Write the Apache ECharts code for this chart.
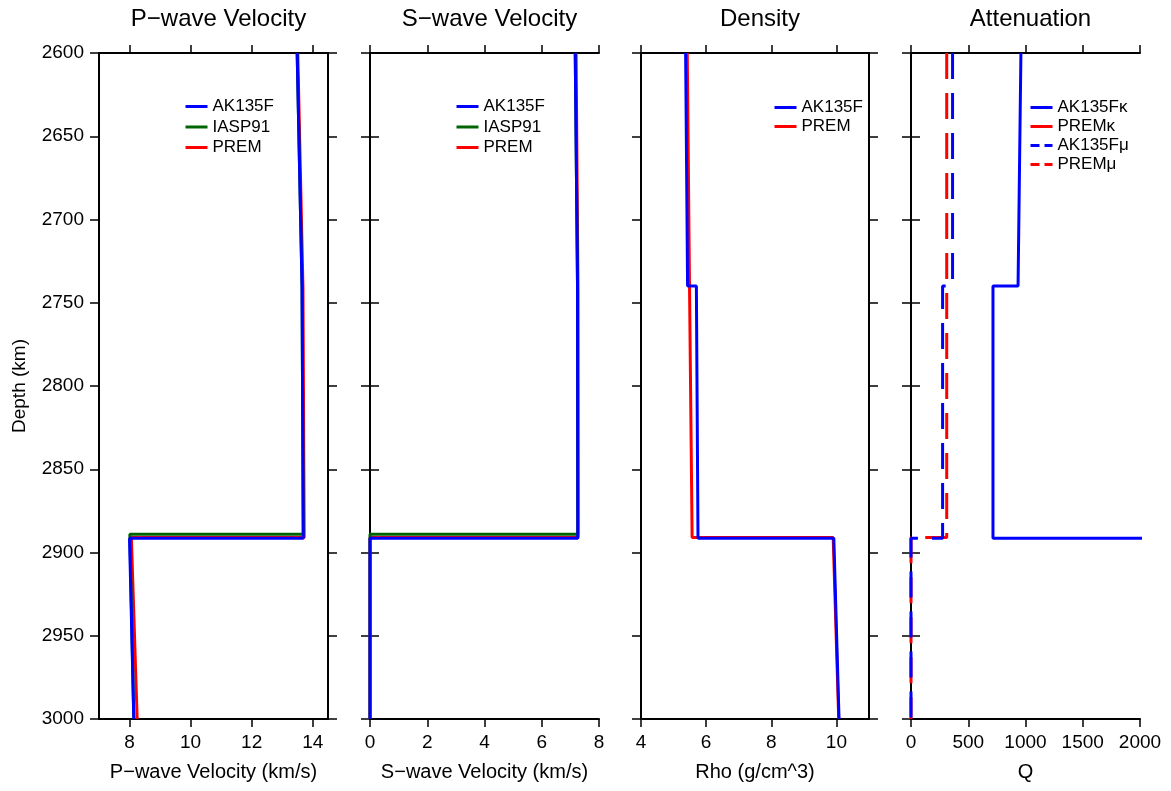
<!DOCTYPE html>
<html>
<head>
<meta charset="utf-8">
<script src="https://cdn.jsdelivr.net/npm/echarts@6/dist/echarts.min.js"></script>
<style>html,body{margin:0;padding:0;background:#fff;}#c{width:1171px;height:791px;}</style>
</head>
<body>
<div id="c"></div>
<script>
// ---------- data ----------
const panelTitles = ['P\u2212wave Velocity', 'S\u2212wave Velocity', 'Density', 'Attenuation'];
const xNames = ['P\u2212wave Velocity (km/s)', 'S\u2212wave Velocity (km/s)', 'Rho (g/cm^3)', 'Q'];
const xTicksP = [8, 10, 12, 14];
const xTicksS = [0, 2, 4, 6, 8];
const xTicksRho = [4, 6, 8, 10];
const xTicksQ = [0, 500, 1000, 1500, 2000];

const depthAK = [2600, 2740, 2740, 2891.5, 2891.5, 3000];
const depthIASP = [2600, 2740, 2889, 2889, 3000];
const depthPREM = [2600, 2741, 2891, 2891, 3000];

const pAK = [13.49, 13.65, 13.65, 13.69, 8.00, 8.14];
const pIASP = [13.49, 13.65, 13.69, 8.01, 8.14];
const pPREM = [13.51, 13.68, 13.72, 8.06, 8.25];

const sAK = [7.17, 7.25, 7.25, 7.26, 0, 0];
const sIASP = [7.17, 7.25, 7.26, 0, 0];
const sPREM = [7.20, 7.265, 7.265, 0, 0];

const rhoAK = [5.37, 5.43, 5.70, 5.75, 9.92, 10.08];
const rhoPREM = [5.42, 5.49, 5.57, 9.90, 10.07];

const qkAK = [960, 935, 716, 716, 57822, 57822];
const qkPREM = [57823, 57823, 57823, 57823, 57823];
const qmAK = [363, 363, 276, 276, 0, 0];
const qmPREM = [312, 312, 312, 0, 0];

// ---------- layout ----------
const FONT = '"Liberation Sans", Arial, Helvetica, sans-serif';
const grids = [
  {left: 99, top: 53, width: 229, height: 666},
  {left: 370, top: 53, width: 229, height: 666},
  {left: 641, top: 53, width: 228, height: 666},
  {left: 911, top: 53, width: 229, height: 666}
];
const xRanges = [[7, 14.5], [0, 8], [4, 11], [0, 2000]];
const xTicks = [xTicksP, xTicksS, xTicksRho, xTicksQ];

const zip = (xs, ds) => xs.map((v, i) => [v, ds[i]]);
const BLUE = '#0000ff', RED = '#ff0000', GREEN = '#006400';
const plain = v => String(v);

const axisLineStyle = {show: true, lineStyle: {color: '#000', width: 2}};
const tickStyle = {lineStyle: {color: '#000', width: 1.5}};

const xAxis = [], yAxis = [], title = [];
grids.forEach((g, i) => {
  xAxis.push({
    type: 'value', gridIndex: i, position: 'bottom', min: xRanges[i][0], max: xRanges[i][1],
    axisLine: axisLineStyle, splitLine: {show: false},
    axisTick: Object.assign({show: true, inside: false, length: 8, customValues: xTicks[i]}, tickStyle),
    axisLabel: {show: true, customValues: xTicks[i], formatter: plain, margin: 14, fontSize: 19, color: '#000', fontFamily: FONT},
    name: xNames[i], nameLocation: 'middle', nameGap: 43,
    nameTextStyle: {fontSize: 20, color: '#000', fontFamily: FONT}
  });
  xAxis.push({
    type: 'value', gridIndex: i, position: 'top', min: xRanges[i][0], max: xRanges[i][1],
    axisLine: axisLineStyle, splitLine: {show: false},
    axisTick: Object.assign({show: true, inside: false, length: 8, customValues: xTicks[i]}, tickStyle),
    axisLabel: {show: false}
  });
  const yl = {
    type: 'value', gridIndex: i, position: 'left', inverse: true, min: 2600, max: 3000, interval: 50,
    axisLine: axisLineStyle, splitLine: {show: false},
    axisTick: Object.assign({show: true, inside: false, length: 9}, tickStyle),
    axisLabel: {show: i === 0, formatter: plain, margin: 15, fontSize: 19, color: '#000', fontFamily: FONT}
  };
  if (i === 0) {
    yl.name = 'Depth (km)';
    yl.nameLocation = 'middle';
    yl.nameGap = 70;
    yl.nameTextStyle = {fontSize: 19, color: '#000', fontFamily: FONT};
  }
  yAxis.push(yl);
  yAxis.push({
    type: 'value', gridIndex: i, position: 'right', inverse: true, min: 2600, max: 3000, interval: 50,
    axisLine: axisLineStyle, splitLine: {show: false},
    axisTick: Object.assign({show: true, inside: false, length: 9}, tickStyle),
    axisLabel: {show: false}
  });
  title.push({
    text: panelTitles[i], left: g.left + g.width / 2, top: 2, textAlign: 'center',
    textStyle: {fontSize: 24, fontWeight: 'normal', color: '#000', fontFamily: FONT}
  });
});

function line(name, panel, data, color, dashed, z) {
  return {
    type: 'line', name: name, xAxisIndex: panel * 2, yAxisIndex: panel * 2,
    data: data, symbol: 'none', showSymbol: false, clip: true, z: z, animation: false,
    lineStyle: {color: color, width: 3, type: dashed ? [26, 14] : 'solid'},
    itemStyle: {color: color}
  };
}

const series = [
  line('PREM', 0, zip(pPREM, depthPREM), RED, false, 2),
  line('IASP91', 0, zip(pIASP, depthIASP), GREEN, false, 3),
  line('AK135F', 0, zip(pAK, depthAK), BLUE, false, 4),
  line('PREM', 1, zip(sPREM, depthPREM), RED, false, 2),
  line('IASP91', 1, zip(sIASP, depthIASP), GREEN, false, 3),
  line('AK135F', 1, zip(sAK, depthAK), BLUE, false, 4),
  line('PREM', 2, zip(rhoPREM, depthPREM), RED, false, 2),
  line('AK135F', 2, zip(rhoAK, depthAK), BLUE, false, 4),
  line('PREM\u03ba', 3, zip(qkPREM, depthPREM), RED, false, 2),
  line('AK135F\u03ba', 3, zip(qkAK, depthAK), BLUE, false, 4),
  line('PREM\u03bc', 3, zip(qmPREM, depthPREM), RED, true, 2),
  line('AK135F\u03bc', 3, zip(qmAK, depthAK), BLUE, true, 3)
];

function legendItem(name, color, dashed) {
  return {name: name, itemStyle: {color: color, opacity: 0, borderWidth: 0},
    lineStyle: {color: color, width: 3, opacity: 1, type: dashed ? [9, 5] : 'solid'}};
}
function legendBox(left, top, items, gap) {
  return {
    show: true, left: left, top: top, orient: 'vertical', selectedMode: false,
    itemWidth: 22, itemHeight: 14, itemGap: gap, padding: 0,
    textStyle: {fontSize: 17, color: '#000', fontFamily: FONT},
    data: items
  };
}
const legend = [
  legendBox(184, 98, [legendItem('AK135F', BLUE), legendItem('IASP91', GREEN), legendItem('PREM', RED)], 3.5),
  legendBox(455, 98, [legendItem('AK135F', BLUE), legendItem('IASP91', GREEN), legendItem('PREM', RED)], 3.5),
  legendBox(773, 99, [legendItem('AK135F', BLUE), legendItem('PREM', RED)], 2),
  legendBox(1029, 99, [legendItem('AK135F\u03ba', BLUE), legendItem('PREM\u03ba', RED),
    legendItem('AK135F\u03bc', BLUE, true), legendItem('PREM\u03bc', RED, true)], 2)
];

const chart = echarts.init(document.getElementById('c'), null, {renderer: 'canvas'});
chart.setOption({
  backgroundColor: '#fff',
  animation: false,
  title: title,
  grid: grids.map(g => Object.assign({containLabel: false, outerBoundsMode: 'none'}, g)),
  xAxis: xAxis,
  yAxis: yAxis,
  legend: legend,
  series: series
});
</script>
</body>
</html>
